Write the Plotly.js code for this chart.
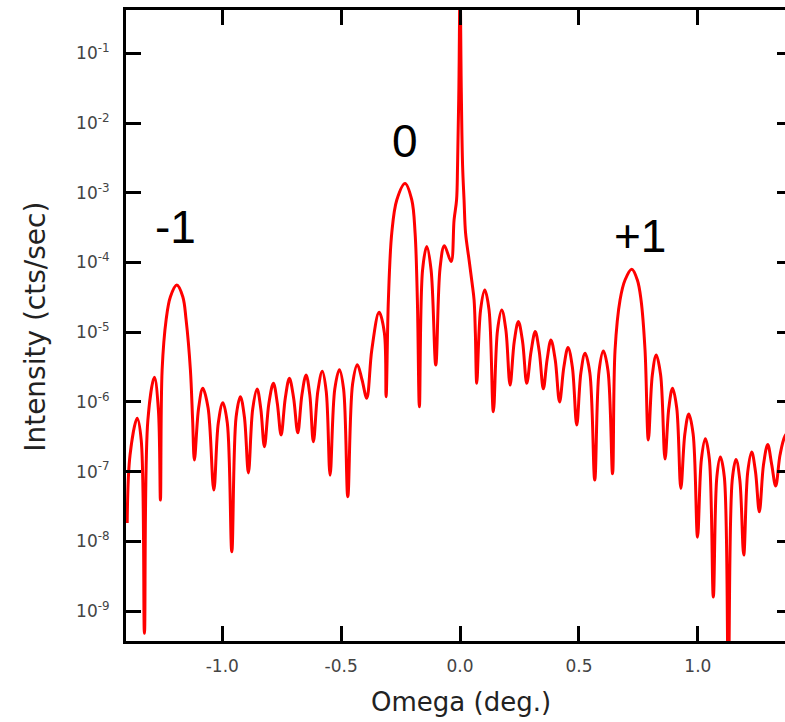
<!DOCTYPE html>
<html>
<head>
<meta charset="utf-8">
<script src="https://cdn.plot.ly/plotly-3.0.1.min.js"></script>
<style>
html,body{margin:0;padding:0;overflow:hidden;background:#fff;}
#chart{width:800px;height:722px;}
</style>
</head>
<body>
<div id="chart"></div>
<script>
// Omega (deg.) values
var omega = [
 -1.400,-1.388,-1.358,-1.341,-1.3275,-1.313,-1.2855,-1.2687,-1.2602,-1.2531,
 -1.2363,-1.2182,-1.1913,-1.1661,-1.1522,-1.1341,-1.1248,-1.1173,-1.0996,-1.082,
 -1.0597,-1.0357,-1.0168,-0.9979,-0.9789,-0.96,-0.9419,-0.9238,-0.907,-0.8902,
 -0.8721,-0.8536,-0.838,-0.8229,-0.804,-0.7851,-0.7687,-0.7527,-0.735,-0.7178,
 -0.7001,-0.6825,-0.6652,-0.6476,-0.632,-0.6169,-0.598,-0.5795,-0.563,-0.5467,
 -0.5269,-0.5075,-0.4899,-0.4722,-0.452,-0.4319,-0.4121,-0.3923,-0.3713,-0.3406,
 -0.3183,-0.3112,-0.3015,-0.2872,-0.2662,-0.2313,-0.2031,-0.1892,-0.1796,-0.1711,
 -0.1577,-0.14,-0.1219,-0.1022,-0.0841,-0.066,-0.0378,-0.0252,-0.0147,-0.0105,
 -0.005,0.0,0.005,0.0105,0.0168,0.0231,0.0378,0.0505,0.0589,0.0643,
 0.0702,0.0862,0.1039,0.1219,0.14,0.1577,0.1753,0.1926,0.2103,0.2279,
 0.2452,0.2628,0.2805,0.2986,0.3162,0.333,0.3503,0.3658,0.3822,0.4003,
 0.4184,0.4365,0.4541,0.4722,0.4907,0.508,0.5256,0.5458,0.5664,0.5845,
 0.6026,0.6223,0.6413,0.6518,0.6728,0.6938,0.722,0.7456,0.7611,0.7779,
 0.7918,0.8086,0.825,0.8435,0.862,0.878,0.8936,0.9112,0.9285,0.9453,
 0.9617,0.9802,0.9987,1.0151,1.0315,1.0483,1.0651,1.0799,1.0946,1.1114,
 1.1282,1.1446,1.1606,1.1766,1.193,1.2098,1.2266,1.2426,1.2586,1.2762,
 1.2939,1.3107,1.3275,1.3456,1.3666,1.3877
];
// Intensity (cts/sec) values
var intensity = [
 1.83e-8,1.73e-7,5.82e-7,2.84e-7,4.8e-10,5.5e-7,2.25e-6,7.65e-7,3.91e-8,2.87e-6,
 1.50e-5,3.23e-5,4.75e-5,3.23e-5,1.50e-5,2.87e-6,5.5e-7,1.47e-7,8.17e-7,1.57e-6,
 8.17e-7,5.44e-8,4.98e-7,9.75e-7,4.98e-7,7.1e-9,6.07e-7,1.19e-6,6.07e-7,9.6e-8,
 7.91e-7,1.53e-6,7.91e-7,2.28e-7,9.6e-7,1.85e-6,9.6e-7,3.35e-7,1.14e-6,2.18e-6,
 1.14e-6,3.61e-7,1.26e-6,2.43e-6,1.26e-6,2.69e-7,1.43e-6,2.75e-6,1.43e-6,8.9e-8,
 1.53e-6,2.9e-6,1.53e-6,4.37e-8,1.81e-6,3.42e-6,2.06e-6,1.13e-6,5.56e-6,1.93e-5,
 9.75e-6,1.19e-6,2.9e-5,2.65e-4,7.88e-4,1.36e-3,7.88e-4,2.65e-4,2.9e-5,8.53e-7,
 7.8e-5,1.69e-4,7.8e-5,3.38e-6,8.34e-5,1.74e-4,1.03e-4,4.07e-4,7.88e-4,2.5e-3,
 3.18e-2,1.0,3.18e-2,2.5e-3,7.88e-4,2.65e-4,1.09e-4,5.08e-5,2.9e-5,9.75e-6,
 1.85e-6,2.08e-5,4.03e-5,2.08e-5,7.23e-7,1.08e-5,2.08e-5,1.08e-5,1.75e-6,7.36e-6,
 1.42e-5,7.36e-6,1.85e-6,5.28e-6,1.02e-5,5.28e-6,1.54e-6,3.99e-6,7.73e-6,3.99e-6,
 1.0e-6,3.17e-6,6.03e-6,3.17e-6,4.66e-7,2.6e-6,4.98e-6,2.6e-6,7.57e-8,2.77e-6,
 5.37e-6,2.77e-6,9.33e-8,5.56e-6,2.9e-5,5.61e-5,7.99e-5,5.61e-5,2.9e-5,5.56e-6,
 2.84e-7,2.43e-6,4.71e-6,2.43e-6,1.52e-7,8.17e-7,1.57e-6,8.17e-7,5.75e-8,3.46e-7,
 6.7e-7,3.46e-7,1.15e-8,1.52e-7,2.96e-7,1.52e-7,1.59e-9,8.37e-8,1.62e-7,8.37e-8,
 1e-10,7.57e-8,1.49e-7,7.57e-8,6.36e-9,9.87e-8,1.91e-7,9.87e-8,2.66e-8,1.26e-7,
 2.45e-7,1.26e-7,6.21e-8,1.73e-7,3.24e-7,3.95e-7
];
var xTickVals = [-1.0,-0.5,0.0,0.5,1.0];
var xTickText = ['-1.0','-0.5','0.0','0.5','1.0'];
var yTickVals = [1e-9,1e-8,1e-7,1e-6,1e-5,1e-4,1e-3,1e-2,1e-1];
var yTickText = ['10<sup>-9</sup>','10<sup>-8</sup>','10<sup>-7</sup>','10<sup>-6</sup>','10<sup>-5</sup>','10<sup>-4</sup>','10<sup>-3</sup>','10<sup>-2</sup>','10<sup>-1</sup>'];
var peakLabels = ['-1','0','+1'];
var xTitle = 'Omega (deg.)';
var yTitle = 'Intensity (cts/sec)';

var trace = {
  x: omega, y: intensity, type: 'scatter', mode: 'lines',
  line: {color: '#ff0000', width: 3, shape: 'spline', smoothing: 1}, hoverinfo: 'skip'
};
var tickFont = {family: 'DejaVu Sans', size: 17, color: '#444'};
var yTitleFont = {family: 'DejaVu Sans', size: 28, color: '#222'};
var xTitleFont = {family: 'DejaVu Sans', size: 26, color: '#222'};
var labelFont = {family: 'Liberation Sans, Arial', size: 46, color: '#000'};

var layout = {
  width: 800, height: 722,
  margin: {l: 126, r: 8, t: 10, b: 81},
  paper_bgcolor: '#fff', plot_bgcolor: '#fff',
  showlegend: false,
  xaxis: {
    range: [-1.405, 1.396], tickvals: xTickVals, ticktext: xTickText,
    ticks: 'inside', ticklen: 15, tickwidth: 3, tickcolor: '#000',
    showline: true, linewidth: 3, linecolor: '#000', mirror: 'ticks',
    showgrid: false, zeroline: false, tickfont: tickFont, ticklabelstandoff: 8
  },
  yaxis: {
    type: 'log', range: [-9.429, -0.379], tickvals: yTickVals, ticktext: yTickText,
    ticks: 'inside', ticklen: 15, tickwidth: 3, tickcolor: '#000',
    showline: true, linewidth: 3, linecolor: '#000', mirror: 'ticks',
    showgrid: false, zeroline: false, tickfont: tickFont, ticklabelstandoff: 10
  },
  annotations: [
    {text: yTitle, xref: 'paper', yref: 'paper', x: -0.135, y: 0.498, textangle: -90,
     showarrow: false, font: yTitleFont, xanchor: 'center', yanchor: 'middle'},
    {text: xTitle, xref: 'paper', yref: 'paper', x: 0.503, y: -0.097,
     showarrow: false, font: xTitleFont, xanchor: 'center', yanchor: 'middle'},
    {text: peakLabels[0], xref: 'paper', yref: 'paper', x: 0.0736, y: 0.656,
     showarrow: false, font: labelFont, xanchor: 'center', yanchor: 'middle'},
    {text: peakLabels[1], xref: 'paper', yref: 'paper', x: 0.4189, y: 0.793,
     showarrow: false, font: labelFont, xanchor: 'center', yanchor: 'middle'},
    {text: peakLabels[2], xref: 'paper', yref: 'paper', x: 0.7718, y: 0.642,
     showarrow: false, font: labelFont, xanchor: 'center', yanchor: 'middle'}
  ]
};
Plotly.newPlot('chart', [trace], layout, {displayModeBar: false, staticPlot: true});
</script>
</body>
</html>
